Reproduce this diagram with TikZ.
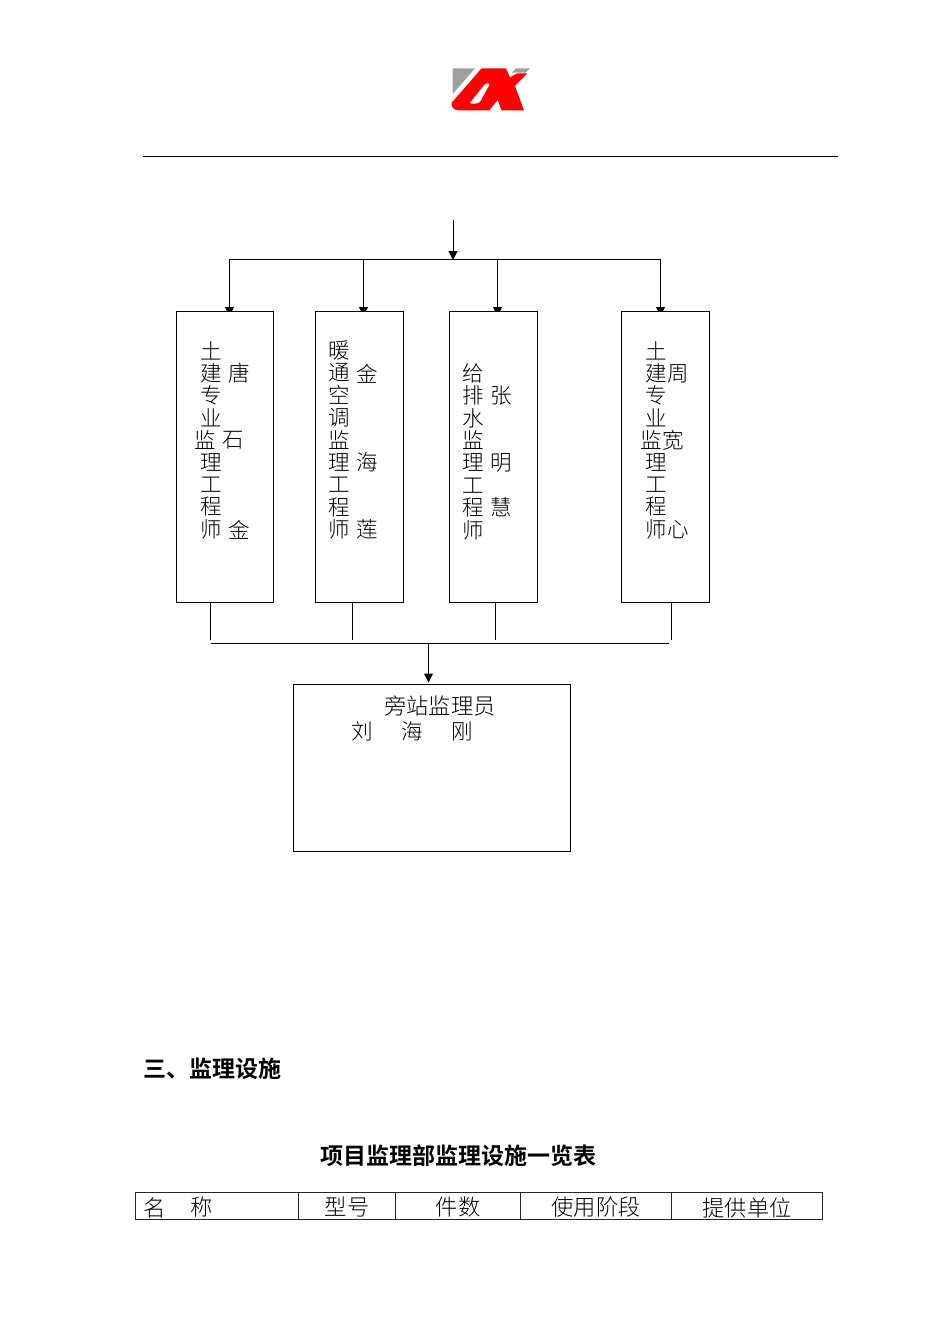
\documentclass[tikz,border=0pt]{standalone}
\usepackage{fontspec}
\newfontfamily\cjk[BoldFont={Noto Sans CJK SC Bold}]{Noto Sans CJK SC Light}
\usetikzlibrary{arrows.meta}
\tikzset{
  thinln/.style={line width=1pt,black},
  arr/.style={thinln,-{Triangle[length=9pt,width=9pt]}},
  boxx/.style={draw=black,line width=1pt,fill=white,inner sep=0pt,outer sep=0pt,minimum width=#1},
  vtxt/.style={inner sep=0pt,align=center,font=\cjk\fontsize{21.5}{22.4}\selectfont},
  htxt/.style={inner sep=0pt,font=\cjk\fontsize{21.5}{22.4}\selectfont},
  widetxt/.style={inner sep=0pt,font=\cjk\fontsize{22.3}{22.4}\selectfont},
  boldtxt/.style={inner sep=0pt,font=\cjk\bfseries\fontsize{23}{24}\selectfont},
  cell/.style={draw=black!85,line width=0.8pt,inner sep=0pt,outer sep=0pt,minimum height=27pt,minimum width=#1,anchor=north west}
}
\begin{document}
\begin{tikzpicture}[x=1pt,y=-1pt]
\useasboundingbox (0,0) rectangle (950,1344);
\fill[white] (0,0) rectangle (950,1344);
% logo
\begin{scope}[shift={(430,50)},x=0.3333pt,y=-0.3333pt]
\fill[gray!75] (68,55) -- (135,55) -- (68,132) -- cycle;
\fill[gray!75] (245,68) -- (258,55) -- (300,55) -- (287,68) -- cycle;
\fill[red,even odd rule] (65,158) -- (155,55) -- (228,55) -- (240,82) -- (262,70) -- (292,70) -- (255,108) -- (282,181) -- (215,181) -- (203,150) -- (178,181) -- (85,181) .. controls (72,181) and (62,170) .. (65,158) -- cycle
 (120,158) -- (163,104) .. controls (168,98) and (182,98) .. (178,106) -- (150,156) .. controls (146,162) and (116,164) .. (120,158) -- cycle;
\end{scope}
\coordinate (ruleL) at (143,156);
\coordinate (ruleR) at (838,156);
\draw[thinln] (ruleL) -- (ruleR);
% connectors
\coordinate (topin) at (453,220);
\coordinate (topbus) at (453,260);
\coordinate (busL) at (229.5,259);
\coordinate (busA) at (363.5,259);
\coordinate (busB) at (497.5,259);
\coordinate (busR) at (660.5,259);
\coordinate (t1) at (229.5,316);
\coordinate (t2) at (363.5,316);
\coordinate (t3) at (497.5,316);
\coordinate (t4) at (660.5,316);
\draw[arr] (topin) -- (topbus);
\draw[thinln] (busL) -- (busR);
\draw[arr] (busL) -- (t1);
\draw[arr] (busA) -- (t2);
\draw[arr] (busB) -- (t3);
\draw[arr] (busR) -- (t4);
% boxes
\node[boxx=97pt,minimum height=291pt,anchor=north west] (b1) at (176.5,311.5) {};
\node[boxx=88pt,minimum height=291pt,anchor=north west] (b2) at (315,311.5) {};
\node[boxx=88pt,minimum height=291pt,anchor=north west] (b3) at (449,311.5) {};
\node[boxx=88pt,minimum height=291pt,anchor=north west] (b4) at (621,311.5) {};
\node[boxx=277pt,minimum height=167pt,anchor=north west] (b5) at (293.5,684.5) {};
% box 1
\node[vtxt] at (211,384) {土\\建\\专\\业};
\node[vtxt] at (205,440.5) {监};
\node[vtxt] at (211,496) {理\\工\\程\\师};
\node[htxt] at (239,373.5) {唐};
\node[htxt] at (233,440.5) {石};
\node[htxt] at (239,529.5) {金};
% box 2
\node[vtxt] at (339,440) {暖\\通\\空\\调\\监\\理\\工\\程\\师};
\node[htxt] at (367,373.5) {金};
\node[htxt] at (367,462.5) {海};
\node[htxt] at (367,529.5) {莲};
% box 3
\node[vtxt] at (473,451.5) {给\\排\\水\\监\\理\\工\\程\\师};
\node[htxt] at (501,395.5) {张};
\node[htxt] at (501,462.5) {明};
\node[htxt] at (501,507.5) {慧};
% box 4
\node[vtxt] at (656,384) {土\\建\\专\\业};
\node[vtxt] at (651,440.5) {监};
\node[vtxt] at (656,496) {理\\工\\程\\师};
\node[htxt] at (678,373.5) {周};
\node[htxt] at (673,440.5) {宽};
\node[htxt] at (678,529.5) {心};
% bottom connectors
\coordinate (s1) at (210.5,640);
\coordinate (s2) at (352.5,640);
\coordinate (s3) at (495,640);
\coordinate (s4) at (671,640);
\coordinate (s1t) at (210.5,603);
\coordinate (s2t) at (352.5,603);
\coordinate (s3t) at (495,603);
\coordinate (s4t) at (671,603);
\draw[thinln] (s1t) -- (s1);
\draw[thinln] (s2t) -- (s2);
\draw[thinln] (s3t) -- (s3);
\draw[thinln] (s4t) -- (s4);
\coordinate (lowL) at (210.5,643.5);
\coordinate (lowR) at (669,643.5);
\coordinate (lowM) at (428.5,643.5);
\coordinate (lowT) at (428.5,682.5);
\draw[thinln] (lowL) -- (lowR);
\draw[arr] (lowM) -- (lowT);
\node[widetxt] at (440,705.5) {旁站监理员};
\node[htxt] at (362,731.5) {刘};
\node[htxt] at (412,731.5) {海};
\node[htxt] at (462,731.5) {刚};
% heading
\node[boldtxt,anchor=west] at (143.5,1068.5) {三、监理设施};
\node[boldtxt] at (458,1155.5) {项目监理部监理设施一览表};
% table
\node[cell=163pt] (c1) at (135,1192.5) {};
\node[cell=97pt] (c2) at (298,1192.5) {};
\node[cell=125pt] (c3) at (395,1192.5) {};
\node[cell=151pt] (c4) at (520,1192.5) {};
\node[cell=151pt] (c5) at (671,1192.5) {};
\node[widetxt] at (155,1207.5) {名};
\node[widetxt] at (202,1207.5) {称};
\node[widetxt] at (347,1207.5) {型号};
\node[widetxt] at (458,1207.5) {件数};
\node[widetxt] at (596,1207.5) {使用阶段};
\node[widetxt] at (747,1207.5) {提供单位};
\end{tikzpicture}
\end{document}
